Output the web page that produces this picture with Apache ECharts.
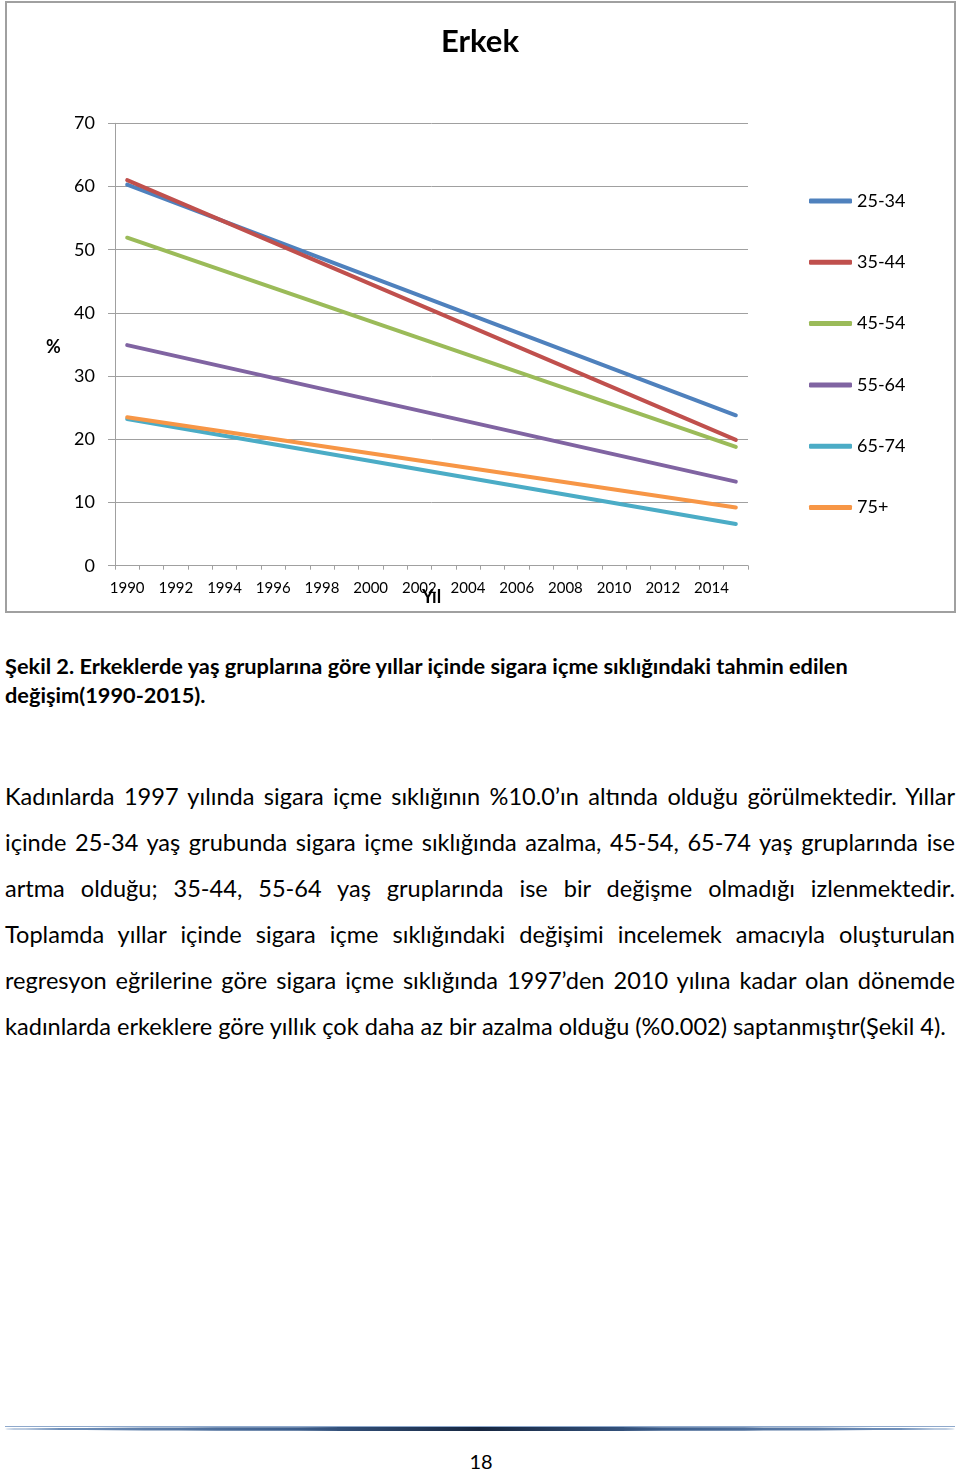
<!DOCTYPE html>
<html>
<head>
<meta charset="utf-8">
<script src="https://cdn.jsdelivr.net/npm/echarts@6/dist/echarts.min.js"></script>
<style>
  html, body { margin: 0; padding: 0; background: #fff; }
  body { width: 960px; height: 1471px; position: relative; overflow: hidden; font-family: Lato, "Noto Sans", sans-serif; color: #000; }
  #frame { position: absolute; left: 5px; top: 1px; width: 951px; height: 612px; border: 2px solid #a0a0a0; box-sizing: border-box; }
  #chart { position: absolute; left: 0; top: 0; width: 960px; height: 615px; }
  #caption { position: absolute; left: 5px; top: 652px; font-weight: bold; font-size: 20px; line-height: 29px; white-space: nowrap; }
  #body { position: absolute; left: 5px; top: 773px; width: 950px; font-size: 21px; line-height: 46px; }
  #body .j { text-align: justify; text-align-last: justify; white-space: nowrap; }
  #body .l { white-space: nowrap; }
  #rule { position: absolute; left: 5px; top: 1427px; width: 950px; height: 4px; border-radius: 50%;
          background: linear-gradient(to right, #7d9cc4 0%, #3d5f8e 30%, #162640 50%, #3d5f8e 70%, #7d9cc4 100%); }
  #rule2 { position: absolute; left: 5px; top: 1426px; width: 950px; height: 1px; background: #8fa9cc; }
  #page { position: absolute; left: 0; width: 962px; top: 1449px; text-align: center; font-size: 20px; line-height: 24px; }
</style>
</head>
<body>
<div id="frame"></div>
<div id="chart"></div>
<div id="caption"><div id="cap1">Şekil 2. Erkeklerde yaş gruplarına göre yıllar içinde sigara içme sıklığındaki tahmin edilen</div><div>değişim(1990-2015).</div></div>
<div id="body">
  <div class="j">Kadınlarda 1997 yılında sigara içme sıklığının %10.0’ın altında olduğu görülmektedir. Yıllar</div>
  <div class="j">içinde 25-34 yaş grubunda sigara içme sıklığında azalma, 45-54, 65-74 yaş gruplarında ise</div>
  <div class="j">artma olduğu; 35-44, 55-64 yaş gruplarında ise bir değişme olmadığı izlenmektedir.</div>
  <div class="j">Toplamda yıllar içinde sigara içme sıklığındaki değişimi incelemek amacıyla oluşturulan</div>
  <div class="j">regresyon eğrilerine göre sigara içme sıklığında 1997’den 2010 yılına kadar olan dönemde</div>
  <div class="l"><span id="last">kadınlarda erkeklere göre yıllık çok daha az bir azalma olduğu (%0.002) saptanmıştır(Şekil 4).</span></div>
</div>
<div id="rule2"></div>
<div id="rule"></div>
<div id="page">18</div>
<script>
// ---- data ----
const years = ['1990','1991','1992','1993','1994','1995','1996','1997','1998','1999','2000','2001','2002',
               '2003','2004','2005','2006','2007','2008','2009','2010','2011','2012','2013','2014','2015'];
const groups = ['25-34', '35-44', '45-54', '55-64', '65-74', '75+'];
const startValues = [60.3, 61.0, 51.9, 34.9, 23.2, 23.5];   // estimated 1990
const endValues   = [23.8, 19.9, 18.8, 13.3, 6.6, 9.2];     // estimated 2015
const yTicks = [0, 10, 20, 30, 40, 50, 60, 70];
const xAxisTitle = 'Yıl';
const yAxisTitle = '%';

// ---- text fitting ----
(function fit() {
  const last = document.getElementById('last');
  const w = last.getBoundingClientRect().width;
  const body = document.getElementById('body');
  body.style.fontSize = (21 * 941 / w).toFixed(2) + 'px';
  const cap = document.getElementById('cap1');
  cap.style.display = 'inline-block';
  const cw = cap.getBoundingClientRect().width;
  document.getElementById('caption').style.fontSize = (20 * 843 / cw).toFixed(2) + 'px';
})();

// ---- chart ----
const colors = ['#4F81BD', '#C0504D', '#9BBB59', '#8064A2', '#4BACC6', '#F79646'];
const chart = echarts.init(document.getElementById('chart'), null, { renderer: 'canvas' });
const font = 'Lato, "Noto Sans", sans-serif';
chart.setOption({
  animation: false,
  color: colors,
  textStyle: { fontFamily: font, color: '#000' },
  title: {
    text: 'Erkek', left: 'center', top: 21,
    textStyle: { fontFamily: font, fontSize: 31, fontWeight: 'bold', color: '#000' }
  },
  legend: {
    orient: 'vertical', left: 809, top: 192, padding: 0,
    itemWidth: 43, itemHeight: 5, itemGap: 43.3,
    icon: 'roundRect',
    textStyle: { fontFamily: font, fontSize: 18, color: '#000' },
    data: groups
  },
  graphic: [
    { type: 'text', left: 422, top: 588, z: 100,
      style: { text: xAxisTitle, fontFamily: font, fontSize: 18, fontWeight: 'bold', fill: '#000' } },
    { type: 'text', left: 46, top: 338, z: 100,
      style: { text: yAxisTitle, fontFamily: font, fontSize: 18, fontWeight: 'bold', fill: '#000' } }
  ],
  grid: { left: 115, right: 212, top: 123.3, bottom: 49.3, containLabel: false, outerBoundsMode: 'none' },
  xAxis: {
    type: 'category', data: years, boundaryGap: true,
    axisLine: { lineStyle: { color: '#a0a0a0', width: 1 } },
    axisTick: { show: true, interval: 0, length: 4, lineStyle: { color: '#a0a0a0' } },
    axisLabel: { interval: 1, margin: 15, fontSize: 15, color: '#000', fontFamily: font },
    splitLine: { show: false }
  },
  yAxis: {
    type: 'value', min: yTicks[0], max: yTicks[yTicks.length - 1], interval: 10,
    axisLine: { show: true, lineStyle: { color: '#a0a0a0', width: 1 } },
    axisTick: { show: true, length: 7, lineStyle: { color: '#a0a0a0' } },
    axisLabel: { margin: 20, fontSize: 18, color: '#000', fontFamily: font },
    splitLine: { show: true, lineStyle: { color: '#a0a0a0', width: 1 } }
  },
  series: groups.map((g, i) => ({
    name: g, type: 'line', symbol: 'none',
    lineStyle: { width: 4, cap: 'round', color: colors[i] },
    itemStyle: { color: colors[i] },
    data: [[years[0], startValues[i]], [years[years.length - 1], endValues[i]]]
  }))
});
</script>
</body>
</html>
